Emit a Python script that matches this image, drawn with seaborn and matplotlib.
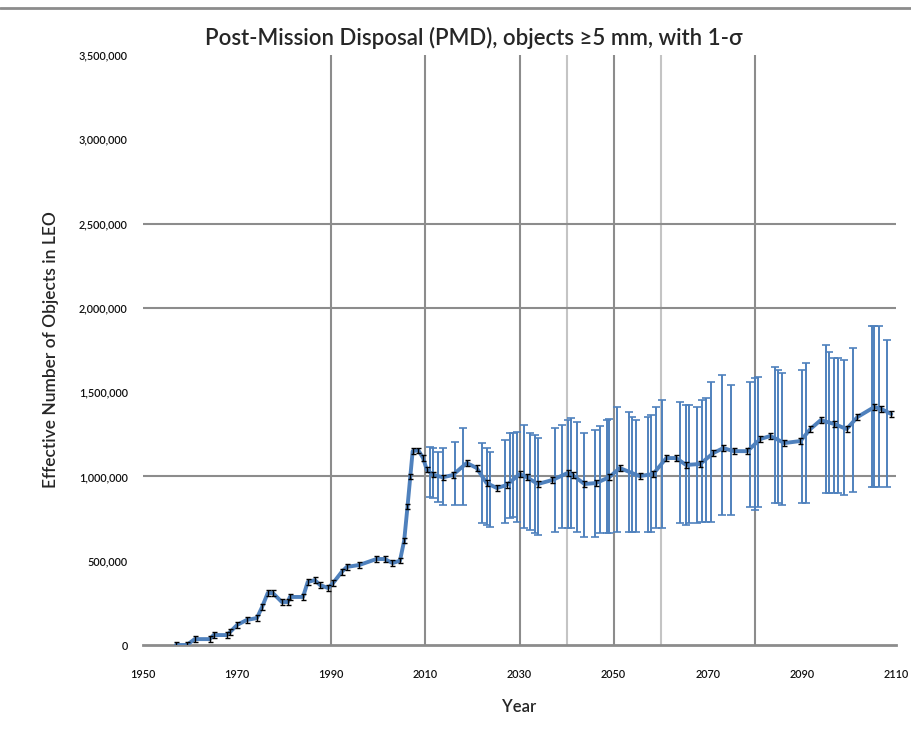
import matplotlib
matplotlib.use("Agg")
import matplotlib.pyplot as plt
from matplotlib.lines import Line2D
from matplotlib.ticker import FuncFormatter
import seaborn as sns
import numpy as np

# Mean effective number of objects (blue line)
mean_years = [1957, 1959.3, 1961, 1964.2, 1965, 1967.8, 1968.5, 1970, 1972, 1974.2,
              1975.3, 1976.5, 1977.6, 1979.5, 1980.8, 1981.2, 1984, 1985, 1986.5, 1987.6,
              1989.3, 1990.4, 1992.2, 1993.3, 1996, 1999.6, 2001.4, 2003, 2004.6, 2005.5,
              2006.2, 2006.8, 2007.3, 2008.5, 2009.5, 2010.3, 2011.6, 2013.7, 2015.8, 2018.8,
              2020.9, 2023, 2025.2, 2027.3, 2030, 2031.5, 2033.9, 2037, 2040.2, 2041.3,
              2043.8, 2046.3, 2049.1, 2051.3, 2055.5, 2058.4, 2061.2, 2063.3, 2065.4, 2068.4,
              2071.2, 2073.3, 2075.5, 2078.4, 2081.2, 2083.3, 2086.3, 2089.7, 2091.8, 2094,
              2096.9, 2099.5, 2101.8, 2105.4, 2106.9, 2109]
mean_vals = [0, 0, 35, 35, 59, 59, 77, 119, 148, 160,
             225, 308, 308, 255, 255, 285, 285, 374, 385, 356,
             338, 368, 433, 463, 475, 510, 510, 486, 500, 620,
             820, 1000, 1150, 1155, 1110, 1040, 1010, 995, 1008, 1080,
             1050, 961, 931, 949, 1014, 996, 955, 979, 1020, 1008,
             955, 961, 996, 1050, 1002, 1014, 1109, 1109, 1068, 1074,
             1139, 1168, 1150, 1150, 1222, 1240, 1198, 1210, 1281, 1334,
             1311, 1281, 1352, 1412, 1400, 1370]
mean_vals = np.array(mean_vals) * 1000

# small black error marks along the mean
mark_err = 16000

# 1-sigma bars (blue), thousands of objects
bar_years = [2011.0, 2011.7, 2012.7, 2013.8, 2016.2, 2018.0, 2022.0, 2023.0, 2023.7, 2026.9,
             2028.0, 2028.6, 2029.4, 2031.0, 2032.2, 2033.2, 2034.0, 2037.5, 2039.0, 2040.3,
             2041.0, 2042.3, 2043.8, 2046.0, 2047.0, 2048.5, 2049.1, 2050.8, 2053.3, 2054.0,
             2054.8, 2057.2, 2058.0, 2059.1, 2060.2, 2064.0, 2065.4, 2066.0, 2067.7, 2068.8,
             2069.6, 2070.6, 2073.1, 2075.0, 2079.0, 2080.0, 2080.7, 2084.2, 2084.9, 2085.7,
             2090.0, 2090.9, 2095.2, 2095.8, 2096.9, 2097.6, 2099.0, 2100.8, 2104.8, 2105.4,
             2106.3, 2108.0]
bar_upper = [1174, 1168, 1145, 1168, 1204, 1287, 1198, 1168, 1145, 1216,
             1257, 1257, 1263, 1305, 1257, 1245, 1228, 1287, 1305, 1334,
             1346, 1323, 1257, 1275, 1299, 1334, 1340, 1412, 1382, 1352,
             1334, 1352, 1364, 1412, 1453, 1441, 1423, 1423, 1412, 1453,
             1465, 1560, 1601, 1542, 1560, 1584, 1590, 1649, 1631, 1613,
             1631, 1673, 1779, 1738, 1702, 1702, 1690, 1761, 1892, 1892,
             1892, 1809]
bar_lower = [878, 872, 848, 830, 830, 830, 724, 712, 700, 724,
             753, 759, 730, 694, 682, 664, 652, 670, 694, 694,
             694, 670, 641, 641, 664, 664, 664, 670, 670, 670,
             670, 670, 670, 694, 694, 724, 712, 724, 724, 730,
             730, 730, 771, 771, 818, 800, 818, 842, 842, 830,
             842, 842, 902, 902, 902, 902, 890, 907, 937, 937,
             937, 937]
bar_upper = np.array(bar_upper) * 1000
bar_lower = np.array(bar_lower) * 1000

x_ticks = list(range(1950, 2111, 20))
y_ticks = list(range(0, 3500001, 500000))
v_grid = [1990, 2010, 2030, 2040, 2050, 2060, 2080]
v_grid_light = [2040, 2060]
h_grid = [1000000, 2000000, 2500000]

blue = "#4F81BD"

sns.set_style("white")
plt.rcParams["font.family"] = ["Lato", "DejaVu Sans"]

fig = plt.figure(figsize=(9.12, 7.44), dpi=100)
ax = fig.add_axes([143 / 912, 1 - 645 / 744, (896 - 143) / 912, (645 - 55) / 744])

# gridlines
for yr in v_grid:
    ax.axvline(yr, color="#c4c4c4" if yr in v_grid_light else "#8c8c8c", lw=1.5, zorder=1)
for v in h_grid:
    ax.axhline(v, color="#8c8c8c", lw=1.5, zorder=1)

# 1-sigma bars
ax.errorbar(bar_years, bar_lower, yerr=[np.zeros(len(bar_lower)), bar_upper - bar_lower],
            fmt="none", ecolor=blue, elinewidth=1.4, capsize=3, capthick=1.2, zorder=2)

# mean line
sns.lineplot(x=mean_years, y=mean_vals, ax=ax, color=blue, lw=2.8, sort=False,
             errorbar=None, zorder=3)

# black spread marks
ax.errorbar(mean_years, mean_vals, yerr=mark_err, fmt="none", ecolor="black",
            elinewidth=1.0, capsize=1.8, capthick=1.0, zorder=4)

ax.set_xlim(1950, 2110)
ax.set_ylim(0, 3500000)
ax.set_xticks(x_ticks)
ax.set_yticks(y_ticks)
ax.yaxis.set_major_formatter(FuncFormatter(lambda v, p: f"{int(v):,}"))
ax.tick_params(axis="both", length=0, labelsize=7.8, colors="#111111")
ax.tick_params(axis="x", pad=17)
ax.tick_params(axis="y", pad=11)
for lbl in ax.get_xticklabels() + ax.get_yticklabels():
    lbl.set_fontweight("semibold")

for s in ["top", "right", "left"]:
    ax.spines[s].set_visible(False)
ax.spines["bottom"].set_color("#8c8c8c")
ax.spines["bottom"].set_linewidth(2)

ax.set_xlabel("Year", fontsize=12, fontweight="semibold", labelpad=14)
ax.set_ylabel("Effective Number of Objects in LEO", fontsize=12.5, fontweight="semibold",
              labelpad=14)

fig.text(474 / 912, 1 - 38 / 744, "Post-Mission Disposal (PMD), objects \u22655 mm, with 1-\u03c3",
         ha="center", va="center", fontsize=16, fontweight="semibold")

fig.add_artist(Line2D([0, 1], [1 - 8 / 744, 1 - 8 / 744], transform=fig.transFigure,
                      color="#8c8c8c", lw=2))

fig.savefig("out.png", dpi=100)
